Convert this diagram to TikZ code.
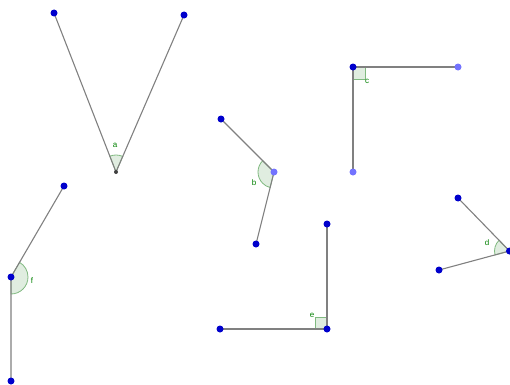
\documentclass[tikz,border=0pt]{standalone}
\usepackage{fontspec}
\setmainfont{Liberation Sans}
\begin{document}
\begin{tikzpicture}[x=1pt,y=1pt,
  seg/.style={draw=black!50,line width=1.1},
  angfill/.style={draw=green!45!black!50,fill=green!40!black!12,line width=0.8},
  ptfree/.style={circle,fill=blue!80!black,inner sep=0pt,minimum size=7},
  ptdep/.style={circle,fill=blue!55!white,inner sep=0pt,minimum size=7},
  ptdark/.style={circle,fill=black!75,inner sep=0pt,minimum size=4},
  lbl/.style={text=green!50!black,font=\fontsize{8}{8}\selectfont,inner sep=0pt}]
\useasboundingbox (0,0) rectangle (510,384);
% coordinates
\coordinate (a0) at (116,212); \coordinate (a1) at (54,371); \coordinate (a2) at (184,369);
\coordinate (b0) at (274,212); \coordinate (b1) at (221,265); \coordinate (b2) at (256,140);
\coordinate (c0) at (353,317); \coordinate (c1) at (458,317); \coordinate (c2) at (353,212);
\coordinate (d0) at (509.5,133); \coordinate (d1) at (458,186); \coordinate (d2) at (439,114);
\coordinate (e0) at (327,55); \coordinate (e1) at (327,160); \coordinate (e2) at (220,55);
\coordinate (f0) at (11,107); \coordinate (f1) at (64,198); \coordinate (f2) at (11,3);
% angle markers
\path[angfill] (a0) -- ++(66.6:17) arc[start angle=66.6,end angle=111.3,radius=17] -- cycle;
\path[angfill] (b0) -- ++(135:16) arc[start angle=135,end angle=256,radius=16] -- cycle;
\path[angfill] (c0) rectangle ++(12,-12);
\path[angfill] (d0) -- ++(133.9:15) arc[start angle=133.9,end angle=195.2,radius=15] -- cycle;
\path[angfill] (e0) rectangle ++(-12,12);
\path[angfill] (f0) -- ++(-90:17) arc[start angle=-90,end angle=59.8,radius=17] -- cycle;
% segments
\draw[seg] (a1) -- (a0) -- (a2);
\draw[seg] (b1) -- (b0) -- (b2);
\draw[seg] (c1) -- (c0) -- (c2);
\draw[seg] (d1) -- (d0) -- (d2);
\draw[seg] (e1) -- (e0) -- (e2);
\draw[seg] (f1) -- (f0) -- (f2);
% points
\node[ptdark] (pa0) at (a0) {};
\node[ptfree] (pa1) at (a1) {}; \node[ptfree] (pa2) at (a2) {};
\node[ptdep] (pb0) at (b0) {};
\node[ptfree] (pb1) at (b1) {}; \node[ptfree] (pb2) at (b2) {};
\node[ptfree] (pc0) at (c0) {};
\node[ptdep] (pc1) at (c1) {}; \node[ptdep] (pc2) at (c2) {};
\node[ptfree] (pd0) at (d0) {};
\node[ptfree] (pd1) at (d1) {}; \node[ptfree] (pd2) at (d2) {};
\node[ptfree] (pe0) at (e0) {};
\node[ptfree] (pe1) at (e1) {}; \node[ptfree] (pe2) at (e2) {};
\node[ptfree] (pf0) at (f0) {};
\node[ptfree] (pf1) at (f1) {}; \node[ptfree] (pf2) at (f2) {};
% labels
\node[lbl] (la) at (115,239) {a};
\node[lbl] (lb) at (254,201) {b};
\node[lbl] (lc) at (367,303) {c};
\node[lbl] (ld) at (487,141) {d};
\node[lbl] (le) at (312,69) {e};
\node[lbl] (lf) at (32,103) {f};
\end{tikzpicture}
\end{document}
